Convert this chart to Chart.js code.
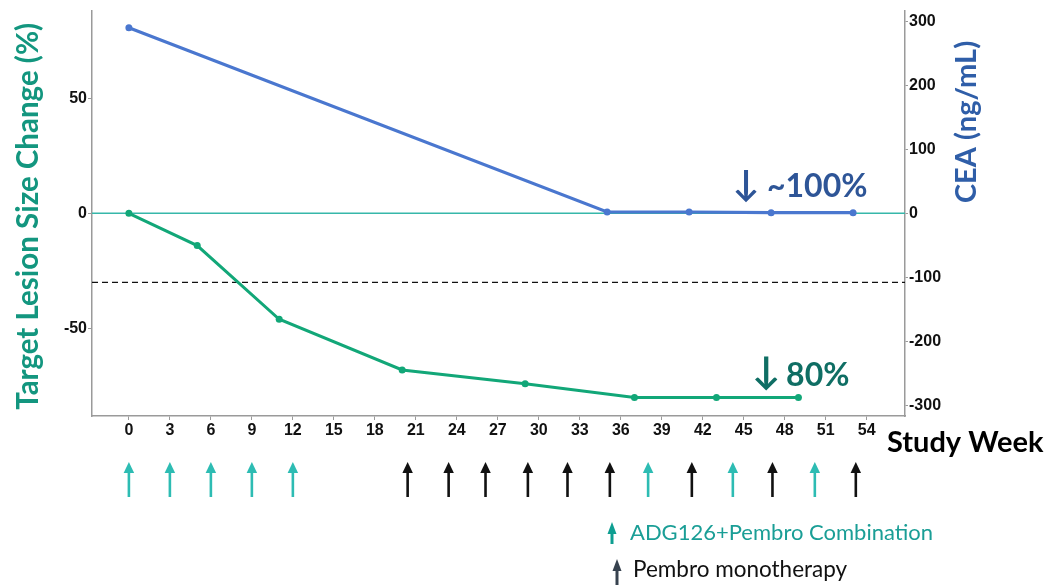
<!DOCTYPE html>
<html>
<head>
<meta charset="utf-8">
<script src="https://cdn.jsdelivr.net/npm/chart.js@4.4.1/dist/chart.umd.min.js"></script>
<style>
  html, body { margin: 0; padding: 0; background: #ffffff; }
  #wrap { width: 1048px; height: 585px; position: relative; }
</style>
</head>
<body>
<div id="wrap"><canvas id="c" width="1048" height="585"></canvas></div>
<script>
// Target lesion size change (%) by study week
const lesionWeeks = [0, 5, 11, 20, 29, 37, 43, 49];
const lesionChange = [0, -14, -46, -68, -74, -80, -80, -80];

// Serum CEA (ng/mL) by study week
const ceaWeeks = [0, 35, 41, 47, 53];
const ceaValues = [290, 2, 2, 1, 1];

// Dosing schedule (weeks)
const comboWeeks = [0, 3, 6, 9, 12, 38, 44.2, 50.2];
const monoWeeks = [20.4, 23.4, 26.1, 29.2, 32.1, 35.2, 41.2, 47.1, 53.2];

// Tick labels
const weekTicks = [0, 3, 6, 9, 12, 15, 18, 21, 24, 27, 30, 33, 36, 39, 42, 45, 48, 51, 54];
const lesionTicks = [-50, 0, 50];
const ceaTicks = [-300, -200, -100, 0, 100, 200, 300];

// Reference levels on the lesion axis
const baselineLevel = 0;
const responseThreshold = -30;

const GREEN = '#12a778';
const BLUE = '#4a77cf';
const TEAL = '#2dbcb3';
const AXIS_GREY = '#9a9a9a';
const TICK_FONT = { family: '"Liberation Sans", Arial, sans-serif', size: 16, weight: 'bold' };
const TITLE_FAMILY = 'Lato, "Open Sans", sans-serif';

function toPoints(xs, ys) { return xs.map((x, i) => ({ x: x, y: ys[i] })); }

const overlay = {
  id: 'overlay',
  beforeDatasetsDraw(chart) {
    const { ctx, chartArea: a, scales } = chart;
    const y = scales.y;
    ctx.save();
    // baseline at 0 %
    ctx.strokeStyle = '#36b7aa';
    ctx.lineWidth = 1.4;
    ctx.beginPath();
    const y0 = y.getPixelForValue(baselineLevel);
    ctx.moveTo(a.left, y0); ctx.lineTo(a.right, y0);
    ctx.stroke();
    // partial response threshold
    ctx.strokeStyle = '#111';
    ctx.lineWidth = 1.3;
    ctx.setLineDash([6, 4]);
    ctx.beginPath();
    const yt = y.getPixelForValue(responseThreshold);
    ctx.moveTo(a.left, yt); ctx.lineTo(a.right, yt);
    ctx.stroke();
    ctx.restore();
  },
  afterDraw(chart) {
    const { ctx, chartArea: a, scales } = chart;
    const x = scales.x, y = scales.y, y1 = scales.y1;

    function upArrow(px, top, bottom, color, shaft, headW, headH) {
      ctx.fillStyle = color;
      ctx.strokeStyle = color;
      ctx.lineWidth = shaft;
      ctx.beginPath();
      ctx.moveTo(px, top + headH - 1);
      ctx.lineTo(px, bottom);
      ctx.stroke();
      ctx.beginPath();
      ctx.moveTo(px, top);
      ctx.lineTo(px - headW / 2, top + headH);
      ctx.lineTo(px + headW / 2, top + headH);
      ctx.closePath();
      ctx.fill();
    }

    ctx.save();
    // dosing arrows below the week axis
    comboWeeks.forEach(w => upArrow(x.getPixelForValue(w), 462, 497, TEAL, 2.6, 10.5, 11));
    monoWeeks.forEach(w => upArrow(x.getPixelForValue(w), 462, 497, '#111111', 2.6, 10.5, 11));

    // axis titles
    ctx.textBaseline = 'middle';
    ctx.textAlign = 'center';
    ctx.fillStyle = '#13967f';
    ctx.font = 'bold 29.5px ' + TITLE_FAMILY;
    ctx.save();
    ctx.translate(28, (a.top + a.bottom) / 2 + 3);
    ctx.rotate(-Math.PI / 2);
    ctx.fillText('Target Lesion Size Change (%)', 0, 0);
    ctx.restore();

    ctx.fillStyle = '#2f5ea8';
    ctx.font = 'bold 29px ' + TITLE_FAMILY;
    ctx.save();
    ctx.translate(967, 122);
    ctx.rotate(-Math.PI / 2);
    ctx.fillText('CEA (ng/mL)', 0, 0);
    ctx.restore();

    ctx.fillStyle = '#000';
    ctx.font = 'bold 29px ' + TITLE_FAMILY;
    ctx.textAlign = 'left';
    ctx.fillText('Study Week', 887, 443);

    // change annotations
    ctx.textAlign = 'left';
    ctx.fillStyle = '#2e5597';
    ctx.font = 'bold 36px ' + TITLE_FAMILY;
    ctx.fillText('\u2193', x.getPixelForValue(44.2), y1.getPixelForValue(45));
    ctx.font = 'bold 32px ' + TITLE_FAMILY;
    ctx.fillText('~100%', x.getPixelForValue(46.7), y1.getPixelForValue(42));

    ctx.fillStyle = '#0f6e64';
    ctx.font = 'bold 38px ' + TITLE_FAMILY;
    ctx.fillText('\u2193', x.getPixelForValue(45.6), y.getPixelForValue(-69));
    ctx.font = 'bold 32px ' + TITLE_FAMILY;
    ctx.fillText('80%', x.getPixelForValue(48.1), y.getPixelForValue(-70.5));

    // legend
    upArrow(612, 522, 544, '#0e9e91', 3, 9, 12);
    upArrow(617, 559, 585, '#37424f', 3, 9, 12);
    ctx.font = '22px ' + TITLE_FAMILY;
    ctx.fillStyle = '#1a9e96';
    ctx.fillText('ADG126+Pembro Combination', 630, 533);
    ctx.font = '22.5px ' + TITLE_FAMILY;
    ctx.fillStyle = '#111';
    ctx.fillText('Pembro monotherapy', 633, 570);
    ctx.restore();
  }
};

new Chart(document.getElementById('c'), {
  type: 'line',
  data: {
    datasets: [
      {
        label: 'Target Lesion Size Change (%)',
        data: toPoints(lesionWeeks, lesionChange),
        yAxisID: 'y',
        borderColor: GREEN,
        backgroundColor: GREEN,
        borderWidth: 3,
        pointRadius: 3.5,
        pointBorderWidth: 0,
        tension: 0
      },
      {
        label: 'CEA (ng/mL)',
        data: toPoints(ceaWeeks, ceaValues),
        yAxisID: 'y1',
        borderColor: BLUE,
        backgroundColor: BLUE,
        borderWidth: 3.2,
        pointRadius: 3.5,
        pointBorderWidth: 0,
        tension: 0
      }
    ]
  },
  options: {
    responsive: false,
    animation: false,
    devicePixelRatio: 1,
    layout: { padding: { top: 8, left: 0, right: 0, bottom: 0 } },
    plugins: { legend: { display: false }, tooltip: { enabled: false } },
    scales: {
      x: {
        type: 'linear',
        min: -2.7,
        max: 56.8,
        afterBuildTicks: s => { s.ticks = weekTicks.map(v => ({ value: v })); },
        afterFit: s => { s.height = 169; },
        border: { display: true, color: AXIS_GREY, width: 1.5 },
        grid: { display: true, drawOnChartArea: false, drawTicks: true, tickLength: 4, color: AXIS_GREY },
        ticks: { font: TICK_FONT, color: '#111', padding: 1, maxRotation: 0, autoSkip: false }
      },
      y: {
        position: 'left',
        min: -88,
        max: 88,
        afterBuildTicks: s => { s.ticks = lesionTicks.map(v => ({ value: v })); },
        afterFit: s => { s.width = 92; },
        border: { display: true, color: AXIS_GREY, width: 1.5 },
        grid: { display: true, drawOnChartArea: false, drawTicks: true, tickLength: 4, color: AXIS_GREY },
        ticks: { font: TICK_FONT, color: '#111', padding: 1 }
      },
      y1: {
        position: 'right',
        min: -317,
        max: 317,
        afterBuildTicks: s => { s.ticks = ceaTicks.map(v => ({ value: v })); },
        afterFit: s => { s.width = 143; },
        border: { display: true, color: AXIS_GREY, width: 1.5 },
        grid: { display: true, drawOnChartArea: false, drawTicks: true, tickLength: 3, color: AXIS_GREY },
        ticks: { font: TICK_FONT, color: '#111', padding: 1 }
      }
    }
  },
  plugins: [overlay]
});
</script>
</body>
</html>
